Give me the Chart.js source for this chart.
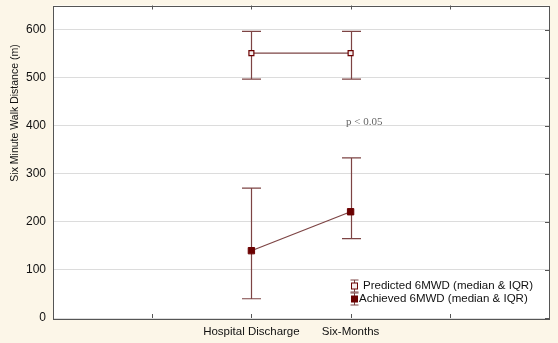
<!DOCTYPE html>
<html>
<head>
<meta charset="utf-8">
<script src="https://cdn.jsdelivr.net/npm/chart.js@4"></script>
<style>
  html, body { margin: 0; padding: 0; background: #fcf6e8; }
  #wrap { width: 558px; height: 343px; }
</style>
</head>
<body>
<div id="wrap"><canvas id="myChart" width="558" height="343"></canvas></div>
<script>
// categories sit at x = 2 and 3 on a 0..5 axis
const categories = ['Hospital Discharge', 'Six-Months']
const catPos = [2, 3]

const predictedMedian = [551, 551]
const predictedQ1 = [497, 497]
const predictedQ3 = [596, 596]

const achievedMedian = [140, 221]
const achievedQ1 = [40, 165]
const achievedQ3 = [270, 333]

const yTicks = [0, 100, 200, 300, 400, 500, 600]

const lineColor = '#7d4444'
const font = '"Liberation Sans", Arial, sans-serif'

const toPoints = (vals) => vals.map((v, i) => ({ x: catPos[i], y: v }))

const errorBars = {
  id: 'errorBars',
  beforeDatasetsDraw(chart) {
    const { ctx, scales } = chart
    const sets = [[predictedQ1, predictedQ3], [achievedQ1, achievedQ3]]
    ctx.save()
    ctx.strokeStyle = lineColor
    ctx.lineWidth = 1.2
    sets.forEach(([lo, hi]) => {
      lo.forEach((l, i) => {
        const x = Math.round(scales.x.getPixelForValue(catPos[i])) + 0.5
        const y1 = scales.y.getPixelForValue(l)
        const y2 = scales.y.getPixelForValue(hi[i])
        ctx.beginPath()
        ctx.moveTo(x, y1); ctx.lineTo(x, y2)
        ctx.moveTo(x - 9.5, y1); ctx.lineTo(x + 9.5, y1)
        ctx.moveTo(x - 9.5, y2); ctx.lineTo(x + 9.5, y2)
        ctx.stroke()
      })
    })
    ctx.restore()
  },
  afterDraw(chart) {
    const { ctx, chartArea: a, scales } = chart
    ctx.save()
    // frame
    ctx.strokeStyle = '#555'
    ctx.lineWidth = 1
    ctx.strokeRect(Math.round(a.left) + 0.5, Math.round(a.top) + 0.5, Math.round(a.right - a.left), Math.round(a.bottom - a.top))
    // inward ticks
    ctx.beginPath()
    ;[1, 2, 3, 4].forEach(v => {
      const x = Math.round(scales.x.getPixelForValue(v)) + 0.5
      ctx.moveTo(x, a.bottom); ctx.lineTo(x, a.bottom - 4)
      ctx.moveTo(x, a.top); ctx.lineTo(x, a.top + 4)
    })
    yTicks.forEach(v => {
      const y = Math.round(scales.y.getPixelForValue(v)) + 0.5
      ctx.moveTo(a.right, y); ctx.lineTo(a.right - 4, y)
    })
    ctx.stroke()

    // y axis title
    ctx.save()
    ctx.translate(15, 113)
    ctx.rotate(-Math.PI / 2)
    ctx.fillStyle = '#111'
    ctx.font = '10.5px ' + font
    ctx.textAlign = 'center'
    ctx.textBaseline = 'middle'
    ctx.fillText('Six Minute Walk Distance (m)', 0, 0)
    ctx.restore()

    // p value note
    ctx.fillStyle = '#666'
    ctx.font = '11px "Liberation Serif", serif'
    ctx.textBaseline = 'middle'
    ctx.fillText('p < 0.05', 346, 122)

    // legend
    const items = [
      { label: 'Predicted 6MWD (median & IQR)', fill: '#f5eeee', x: 363, y: 286 },
      { label: 'Achieved 6MWD (median & IQR)', fill: '#6b0000', x: 359, y: 299 }
    ]
    ctx.font = '11.5px ' + font
    items.forEach(it => {
      const ix = 354.5
      ctx.strokeStyle = lineColor
      ctx.beginPath()
      ctx.moveTo(ix, it.y - 6); ctx.lineTo(ix, it.y + 6)
      ctx.moveTo(ix - 4, it.y - 6); ctx.lineTo(ix + 4, it.y - 6)
      ctx.moveTo(ix - 4, it.y + 6); ctx.lineTo(ix + 4, it.y + 6)
      ctx.stroke()
      ctx.fillStyle = it.fill
      ctx.fillRect(ix - 3, it.y - 3, 6, 6)
      ctx.strokeStyle = '#6b0000'
      ctx.strokeRect(ix - 3, it.y - 3, 6, 6)
      ctx.fillStyle = '#111'
      ctx.fillText(it.label, it.x, it.y)
    })
    ctx.restore()
  }
}

const plotBg = {
  id: 'plotBg',
  beforeDraw(chart) {
    const { ctx, chartArea: a } = chart
    ctx.save()
    ctx.fillStyle = '#ffffff'
    ctx.fillRect(a.left, a.top, a.right - a.left, a.bottom - a.top)
    ctx.restore()
  }
}

new Chart(document.getElementById('myChart'), {
  type: 'scatter',
  data: {
    datasets: [
      {
        label: 'Predicted 6MWD (median & IQR)',
        data: toPoints(predictedMedian),
        showLine: true,
        borderColor: lineColor,
        borderWidth: 1.2,
        pointStyle: 'rect',
        pointRadius: 3.5,
        pointBorderWidth: 1.2,
        pointBackgroundColor: '#f5eeee',
        pointBorderColor: '#6b0000'
      },
      {
        label: 'Achieved 6MWD (median & IQR)',
        data: toPoints(achievedMedian),
        showLine: true,
        borderColor: lineColor,
        borderWidth: 1.2,
        pointStyle: 'rect',
        pointRadius: 4.5,
        pointBorderWidth: 1,
        pointBackgroundColor: '#6b0000',
        pointBorderColor: '#6b0000'
      }
    ]
  },
  options: {
    responsive: false,
    animation: false,
    layout: { padding: { top: 5, right: 9, left: 0, bottom: 0 } },
    plugins: { legend: { display: false }, tooltip: { enabled: false } },
    scales: {
      x: {
        type: 'linear',
        min: 0,
        max: 5,
        afterFit: (s) => { s.height = 25; s.paddingLeft = 0; s.paddingRight = 0 },
        afterBuildTicks: (s) => { s.ticks = catPos.map(v => ({ value: v })) },
        grid: { display: false, drawTicks: false, tickLength: 0 },
        border: { display: false },
        ticks: {
          padding: 7,
          maxRotation: 0,
          color: '#111',
          font: { family: font, size: 11.5 },
          callback: (v) => categories[catPos.indexOf(v)] || ''
        }
      },
      y: {
        min: 0,
        max: 650,
        afterFit: (s) => { s.width = 53; s.paddingTop = 0; s.paddingBottom = 0 },
        afterBuildTicks: (s) => { s.ticks = yTicks.map(v => ({ value: v })) },
        grid: { color: '#dcdcdc', drawTicks: false, lineWidth: 1 },
        border: { display: false },
        ticks: {
          padding: 7,
          color: '#111',
          font: { family: font, size: 12 }
        }
      }
    }
  },
  plugins: [plotBg, errorBars]
})
</script>
</body>
</html>
